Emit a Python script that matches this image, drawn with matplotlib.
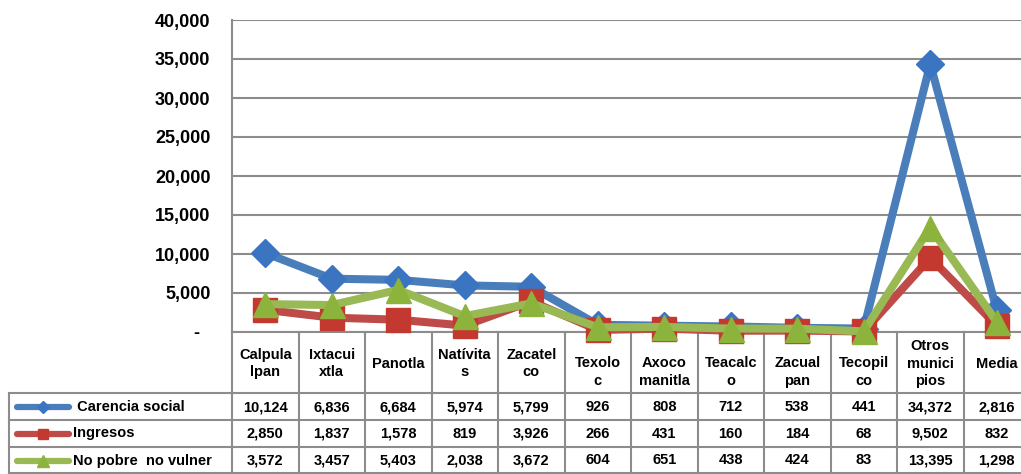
import matplotlib.pyplot as plt
from matplotlib.ticker import FuncFormatter

plt.rcParams['font.family'] = ['Liberation Sans', 'DejaVu Sans']
plt.rcParams['font.weight'] = 'bold'

# datos
municipios = ['Calpula\nlpan', 'Ixtacui\nxtla', 'Panotla', 'Natívita\ns', 'Zacatel\nco',
              'Texolo\nc', 'Axoco\nmanitla', 'Teacalc\no', 'Zacual\npan', 'Tecopil\nco',
              'Otros\nmunici\npios', 'Media']
series = ['Carencia social', 'Ingresos', 'No pobre  no vulner']
carencia = [10124, 6836, 6684, 5974, 5799, 926, 808, 712, 538, 441, 34372, 2816]
ingresos = [2850, 1837, 1578, 819, 3926, 266, 431, 160, 184, 68, 9502, 832]
no_pobre = [3572, 3457, 5403, 2038, 3672, 604, 651, 438, 424, 83, 13395, 1298]

W, H = 1021, 474
x0, colw = 232, 66.5
y_axis, y_top = 332, 20

colores = ['#4A7EBB', '#BE4B48', '#98B954']
marcadores = ['D', 's', '^']
msizes = [14.5, 17, 18]
mcolors = ['#3B74C0', '#C4392F', '#8CB43C']

fig = plt.figure(figsize=(W / 100, H / 100), dpi=100)

# tabla de datos (coordenadas en pixeles)
tab = fig.add_axes([0, 0, 1, 1], zorder=0)
tab.set_xlim(0, W)
tab.set_ylim(H, 0)
tab.axis('off')

ax = fig.add_axes([x0 / W, 1 - y_axis / H, colw * 12 / W, (y_axis - y_top) / H], zorder=2)
ax.set_facecolor('none')
ax.set_xlim(-0.5, 11.5)
ax.set_ylim(0, 40000)
ax.set_yticks(range(0, 40001, 5000))
ax.yaxis.set_major_formatter(FuncFormatter(lambda v, p: '-  ' if v == 0 else f'{v:,.0f}'))
ax.tick_params(axis='y', length=0, labelsize=13, pad=15.5)
ax.set_xticks([])
ax.grid(axis='y', color='#8C8C8C', lw=1.5)
ax.set_axisbelow(True)
for s in ['top', 'right', 'bottom']:
    ax.spines[s].set_visible(False)
ax.spines['left'].set_color('#8C8C8C')
ax.spines['left'].set_linewidth(1.5)
for lbl in ax.get_yticklabels():
    lbl.set_fontweight('bold')

xs = list(range(len(municipios)))
for i, vals in enumerate([carencia, ingresos, no_pobre]):
    ax.plot(xs, vals, color=colores[i], lw=5.8, marker=marcadores[i], ms=msizes[i],
            mfc=mcolors[i], mec=mcolors[i], clip_on=False, zorder=3 + i)

gris = '#8C8C8C'
# eje inferior y lineas de la tabla
tab.plot([x0, W], [y_axis, y_axis], color=gris, lw=1.5)
for y in [393, 420, 447, 473]:
    tab.plot([9, W], [y, y], color=gris, lw=1.5)
tab.plot([9, 9], [393, 474], color=gris, lw=1.5)
for k in range(12):
    xk = x0 + colw * k
    tab.plot([xk, xk], [y_axis, 474], color=gris, lw=1.5)

# encabezados
for k, m in enumerate(municipios):
    xc = x0 + colw * (k + 0.5)
    yc = 372 if 5 <= k <= 9 else 363.5
    tab.text(xc, yc, m, ha='center', va='center', fontsize=10.5, fontweight='bold',
             linespacing=1.3)

# filas
filas = [carencia, ingresos, no_pobre]
ycent = [407, 433.5, 460.5]
etiquetas = [' Carencia social', 'Ingresos', 'No pobre  no vulner']
for i, vals in enumerate(filas):
    y = ycent[i]
    tab.plot([17, 69], [y, y], color=colores[i], lw=4.5, solid_capstyle='round')
    tab.plot([43], [y], marker=marcadores[i], ms=msizes[i] * 0.45, color=mcolors[i])
    tab.text(73, y, etiquetas[i], ha='left', va='center', fontsize=10.5, fontweight='bold')
    for k, v in enumerate(vals):
        tab.text(x0 + colw * (k + 0.5), y, f'{v:,}', ha='center', va='center',
                 fontsize=10.5, fontweight='bold')

fig.savefig('out.png', dpi=100)
